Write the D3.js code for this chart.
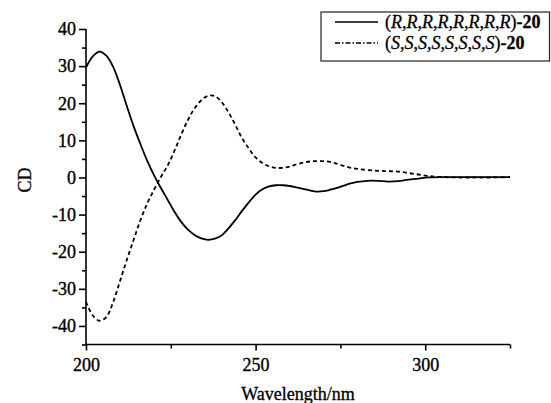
<!DOCTYPE html>
<html><head><meta charset="utf-8">
<script src="https://cdn.jsdelivr.net/npm/d3@7"></script>
<style>body{margin:0;background:#fff}svg{display:block}text{font-family:"Liberation Serif","Times New Roman",serif;fill:#000}</style>
</head><body><svg id="c" width="551" height="403"></svg>
<script>
const wavelength = [200,202,204,206,208,210,212,214,216,218,220,222,224,226,228,230,232,234,236,238,240,242,244,246,248,250,252,254,256,258,260,262,264,266,268,270,272,274,276,278,280,283,286,289,292,295,298,301,305,310,315,320,325];
const cdR = [29.6,32.6,33.9,32.8,29.8,25.0,19.3,13.9,9.1,4.6,0.7,-2.7,-5.9,-9.1,-11.9,-14.0,-15.5,-16.4,-16.8,-16.5,-15.6,-13.7,-11.5,-9.0,-6.7,-4.6,-3.2,-2.4,-2.1,-2.1,-2.3,-2.7,-3.1,-3.5,-3.8,-3.7,-3.3,-2.8,-2.2,-1.6,-1.2,-0.9,-0.9,-1.1,-1.0,-0.6,-0.3,0.0,0.1,0.1,0.1,0.1,0.1];
const cdS = [-33.5,-37.2,-38.6,-37.6,-33.6,-28.0,-22.3,-16.9,-11.6,-7.1,-3.4,0.0,3.1,7.0,11.4,15.4,18.6,20.8,22.0,21.9,20.3,17.6,14.2,10.6,7.8,5.4,3.9,3.0,2.6,2.6,2.9,3.5,4.0,4.3,4.4,4.4,4.2,3.7,3.1,2.6,2.3,2.0,1.8,1.7,1.6,1.2,0.8,0.4,0.1,0.0,0.0,0.0,0.1];
const xMajor = [200,250,300];
const xMinor = [225,275,325];
const yMajor = [-40,-30,-20,-10,0,10,20,30,40];
const yMinor = [-45,-35,-25,-15,-5,5,15,25,35];
const seriesNames = ["R","S"];

const svg = d3.select("#c");
const x = d3.scaleLinear().domain([200,325]).range([86,510]);
const y = d3.scaleLinear().domain([-45,40]).range([344.5,29]);
const fmt = d => String(d);

// axes
const gx = svg.append("g").attr("transform","translate(0,344.5)")
  .call(d3.axisBottom(x).tickValues(xMinor).tickSize(4).tickFormat(""));
gx.select(".domain").attr("d", `M${x(200)},0H${x(325)}`);
const gx2 = svg.append("g").attr("transform","translate(0,344.5)")
  .call(d3.axisBottom(x).tickValues(xMajor).tickSize(6).tickPadding(8).tickSizeOuter(0).tickFormat(fmt));
gx2.select(".domain").remove();
[gx,gx2].forEach(g=>{g.selectAll("path,line").attr("stroke","#000").attr("stroke-width",1.6);});
gx2.selectAll("text").attr("font-size",18).attr("font-family","Liberation Serif").attr("dy","0.71em").attr("stroke","#000").attr("stroke-width",0.35);

const gy = svg.append("g").attr("transform","translate(86,0)")
  .call(d3.axisLeft(y).tickValues(yMinor).tickSize(4).tickFormat(""));
gy.select(".domain").attr("d", `M0,${y(40)}V${y(-45)}`);
const gy2 = svg.append("g").attr("transform","translate(86,0)")
  .call(d3.axisLeft(y).tickValues(yMajor).tickSize(7).tickPadding(3).tickSizeOuter(0).tickFormat(fmt));
gy2.select(".domain").remove();
[gy,gy2].forEach(g=>{g.selectAll("path,line").attr("stroke","#000").attr("stroke-width",1.6);});
gy2.selectAll("text").attr("font-size",18).attr("font-family","Liberation Serif").attr("stroke","#000").attr("stroke-width",0.35);

// curves
const line = vals => d3.line().x((d,i)=>x(wavelength[i])).y(d=>y(d)).curve(d3.curveCatmullRom.alpha(0.5))(vals);
svg.append("path").attr("d",line(cdR)).attr("fill","none").attr("stroke","#000").attr("stroke-width",1.8);
svg.append("path").attr("d",line(cdS)).attr("fill","none").attr("stroke","#000").attr("stroke-width",1.8).attr("stroke-dasharray","4,3");

// axis titles
svg.append("text").attr("x",298).attr("y",400).attr("text-anchor","middle").attr("font-size",18).attr("stroke","#000").attr("stroke-width",0.3).text("Wavelength/nm");
svg.append("text").attr("transform","translate(31,180) rotate(-90)").attr("text-anchor","middle").attr("font-size",18).attr("stroke","#000").attr("stroke-width",0.3).text("CD");

// legend
svg.append("rect").attr("x",321).attr("y",12).attr("width",228.5).attr("height",49).attr("fill","#fff").attr("stroke","#222").attr("stroke-width",1.2);
const rows = [{s:seriesNames[0],dy:22,dash:null},{s:seriesNames[1],dy:43,dash:"5,2,1.5,2"}];
rows.forEach(r=>{
  svg.append("line").attr("x1",335).attr("x2",378).attr("y1",r.dy).attr("y2",r.dy).attr("stroke","#000").attr("stroke-width",1.6).attr("stroke-dasharray",r.dash);
  const t = svg.append("text").attr("x",385).attr("y",r.dy+6).attr("font-size",18).attr("stroke","#000").attr("stroke-width",0.3);
  t.append("tspan").text("(");
  for(let i=0;i<8;i++){
    t.append("tspan").attr("font-style","italic").text(r.s);
    t.append("tspan").text(i<7?",":")");
  }
  t.append("tspan").attr("font-weight","bold").text("-20");
});
</script></body></html>
